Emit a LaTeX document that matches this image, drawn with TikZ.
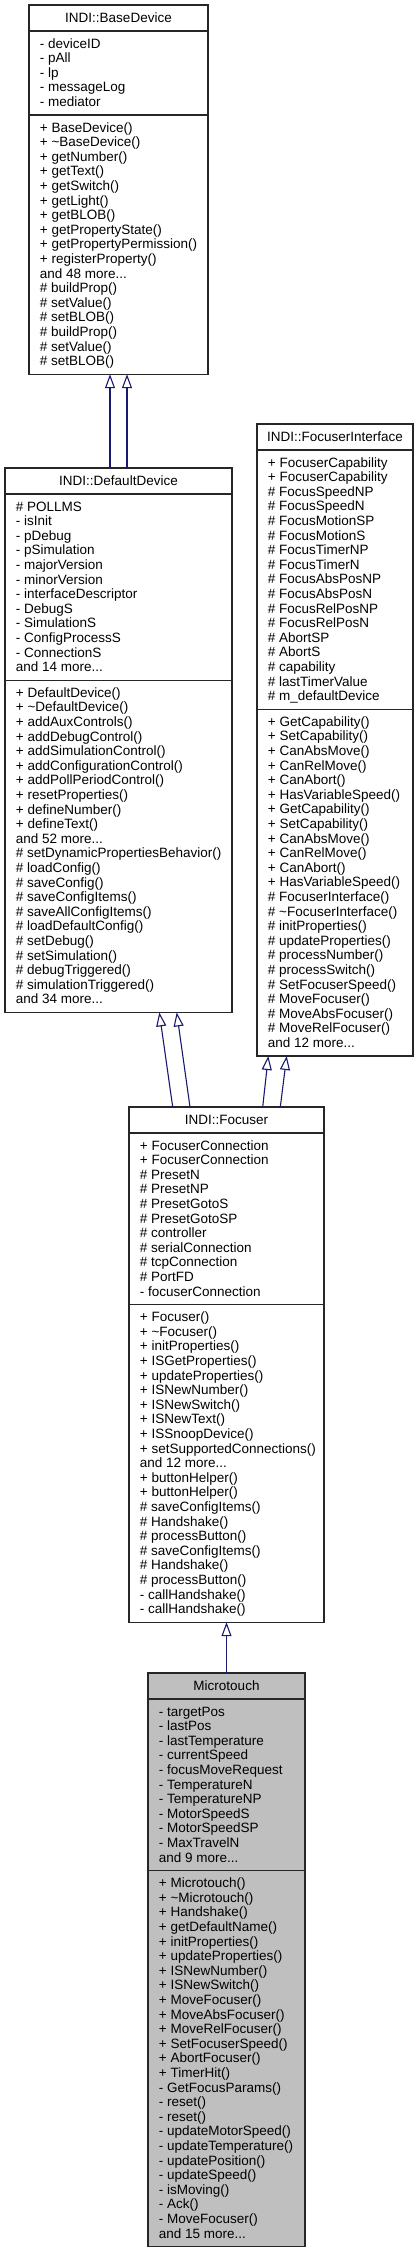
\documentclass[tikz,border=0pt]{standalone}
\usepackage{fontspec}
\setmainfont{Liberation Sans}
\usetikzlibrary{arrows.meta}
\definecolor{navy}{HTML}{191970}
\definecolor{mtgray}{HTML}{BFBFBF}
\newcommand\dxfont{\fontsize{13.5}{14.6}\selectfont}
\newcommand\tl{\textasciitilde}
\tikzset{
 classbox/.style={draw=black!85, line width=1.1pt, inner sep=0pt, outer sep=0pt, anchor=north west, fill=white},
 sepline/.style={draw=black!85, line width=1.1pt},
 ctitle/.style={anchor=base, inner sep=0pt, font=\dxfont},
 members/.style={anchor=north west, inner sep=0pt, align=left, font=\dxfont},
 inh/.style={draw=navy, line width=1.1pt, -{Triangle[open, length=14pt, width=10pt, fill=white]}},
}
\begin{document}
\begin{tikzpicture}[x=1pt,y=-1pt]
\useasboundingbox (0,0) rectangle (418,2253);

% ---------- INDI::BaseDevice
\node[classbox, minimum width=179pt, minimum height=369.2pt] (bd) at (29,5) {};
\draw[sepline] (29,31) -- (208,31);
\draw[sepline] (29,115) -- (208,115);
\node[ctitle] (bdT) at (118.5,22.3) {INDI::BaseDevice};
\node[members] (bdA) at (39.7,37.6) {\strut- deviceID\\- pAll\\- lp\\- messageLog\\- mediator};
\node[members] (bdM) at (39.7,121.6) {\strut+ BaseDevice()\\+ \tl BaseDevice()\\+ getNumber()\\+ getText()\\+ getSwitch()\\+ getLight()\\+ getBLOB()\\+ getPropertyState()\\+ getPropertyPermission()\\+ registerProperty()\\and 48 more...\\\# buildProp()\\\# setValue()\\\# setBLOB()\\\# buildProp()\\\# setValue()\\\# setBLOB()};

% ---------- INDI::DefaultDevice
\node[classbox, minimum width=227pt, minimum height=544.4pt] (dd) at (5,468) {};
\draw[sepline] (5,494) -- (232,494);
\draw[sepline] (5,680.2) -- (232,680.2);
\node[ctitle] (ddT) at (118.5,485.3) {INDI::DefaultDevice};
\node[members] (ddA) at (15.7,500.6) {\strut\# POLLMS\\- isInit\\- pDebug\\- pSimulation\\- majorVersion\\- minorVersion\\- interfaceDescriptor\\- DebugS\\- SimulationS\\- ConfigProcessS\\- ConnectionS\\and 14 more...};
\node[members] (ddM) at (15.7,686.8) {\strut+ DefaultDevice()\\+ \tl DefaultDevice()\\+ addAuxControls()\\+ addDebugControl()\\+ addSimulationControl()\\+ addConfigurationControl()\\+ addPollPeriodControl()\\+ resetProperties()\\+ defineNumber()\\+ defineText()\\and 52 more...\\\# setDynamicPropertiesBehavior()\\\# loadConfig()\\\# saveConfig()\\\# saveConfigItems()\\\# saveAllConfigItems()\\\# loadDefaultConfig()\\\# setDebug()\\\# setSimulation()\\\# debugTriggered()\\\# simulationTriggered()\\and 34 more...};

% ---------- INDI::FocuserInterface
\node[classbox, minimum width=156pt, minimum height=632pt] (fi) at (257,424) {};
\draw[sepline] (257,450) -- (413,450);
\draw[sepline] (257,709.2) -- (413,709.2);
\node[ctitle] (fiT) at (335,441.3) {INDI::FocuserInterface};
\node[members] (fiA) at (267.7,456.6) {\strut+ FocuserCapability\\+ FocuserCapability\\\# FocusSpeedNP\\\# FocusSpeedN\\\# FocusMotionSP\\\# FocusMotionS\\\# FocusTimerNP\\\# FocusTimerN\\\# FocusAbsPosNP\\\# FocusAbsPosN\\\# FocusRelPosNP\\\# FocusRelPosN\\\# AbortSP\\\# AbortS\\\# capability\\\# lastTimerValue\\\# m\_defaultDevice};
\node[members] (fiM) at (267.7,715.8) {\strut+ GetCapability()\\+ SetCapability()\\+ CanAbsMove()\\+ CanRelMove()\\+ CanAbort()\\+ HasVariableSpeed()\\+ GetCapability()\\+ SetCapability()\\+ CanAbsMove()\\+ CanRelMove()\\+ CanAbort()\\+ HasVariableSpeed()\\\# FocuserInterface()\\\# \tl FocuserInterface()\\\# initProperties()\\\# updateProperties()\\\# processNumber()\\\# processSwitch()\\\# SetFocuserSpeed()\\\# MoveFocuser()\\\# MoveAbsFocuser()\\\# MoveRelFocuser()\\and 12 more...};

% ---------- INDI::Focuser
\node[classbox, minimum width=195pt, minimum height=515.2pt] (fo) at (129,1107) {};
\draw[sepline] (129,1133) -- (324,1133);
\draw[sepline] (129,1304.6) -- (324,1304.6);
\node[ctitle] (foT) at (226.5,1124.3) {INDI::Focuser};
\node[members] (foA) at (139.7,1139.6) {\strut+ FocuserConnection\\+ FocuserConnection\\\# PresetN\\\# PresetNP\\\# PresetGotoS\\\# PresetGotoSP\\\# controller\\\# serialConnection\\\# tcpConnection\\\# PortFD\\- focuserConnection};
\node[members] (foM) at (139.7,1311.2) {\strut+ Focuser()\\+ \tl Focuser()\\+ initProperties()\\+ ISGetProperties()\\+ updateProperties()\\+ ISNewNumber()\\+ ISNewSwitch()\\+ ISNewText()\\+ ISSnoopDevice()\\+ setSupportedConnections()\\and 12 more...\\+ buttonHelper()\\+ buttonHelper()\\\# saveConfigItems()\\\# Handshake()\\\# processButton()\\\# saveConfigItems()\\\# Handshake()\\\# processButton()\\- callHandshake()\\- callHandshake()};

% ---------- Microtouch
\node[classbox, fill=mtgray, minimum width=157pt, minimum height=573.6pt] (mt) at (148,1673) {};
\draw[sepline] (148,1699) -- (305,1699);
\draw[sepline] (148,1870.6) -- (305,1870.6);
\node[ctitle] (mtT) at (226.5,1690.3) {Microtouch};
\node[members] (mtA) at (158.7,1705.6) {\strut- targetPos\\- lastPos\\- lastTemperature\\- currentSpeed\\- focusMoveRequest\\- TemperatureN\\- TemperatureNP\\- MotorSpeedS\\- MotorSpeedSP\\- MaxTravelN\\and 9 more...};
\node[members] (mtM) at (158.7,1877.2) {\strut+ Microtouch()\\+ \tl Microtouch()\\+ Handshake()\\+ getDefaultName()\\+ initProperties()\\+ updateProperties()\\+ ISNewNumber()\\+ ISNewSwitch()\\+ MoveFocuser()\\+ MoveAbsFocuser()\\+ MoveRelFocuser()\\+ SetFocuserSpeed()\\+ AbortFocuser()\\+ TimerHit()\\- GetFocusParams()\\- reset()\\- reset()\\- updateMotorSpeed()\\- updateTemperature()\\- updatePosition()\\- updateSpeed()\\- isMoving()\\- Ack()\\- MoveFocuser()\\and 15 more...};

% ---------- inheritance connectors
\draw[inh] ([xshift=105pt]dd.north west) -- ([xshift=81pt]bd.south west);
\draw[inh] ([xshift=122pt]dd.north west) -- ([xshift=98pt]bd.south west);
\draw[inh] ([xshift=43.7pt]fo.north west) -- ([xshift=154.3pt]dd.south west);
\draw[inh] ([xshift=61pt]fo.north west) -- ([xshift=171.7pt]dd.south west);
\draw[inh] ([xshift=133.7pt]fo.north west) -- ([xshift=11.3pt]fi.south west);
\draw[inh] ([xshift=151.3pt]fo.north west) -- ([xshift=29.7pt]fi.south west);
\draw[inh] (mt.north) -- (fo.south);
\end{tikzpicture}
\end{document}
